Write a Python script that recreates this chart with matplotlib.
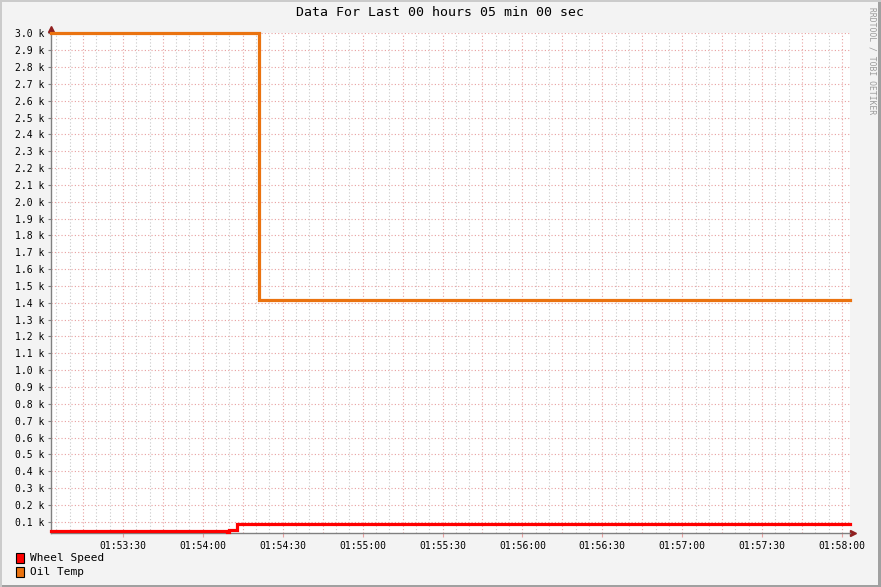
import datetime as dt
import matplotlib
matplotlib.use("Agg")
import matplotlib.pyplot as plt
import matplotlib.dates as mdates
from matplotlib.patches import Rectangle
from matplotlib.ticker import FixedLocator, FuncFormatter, MultipleLocator

title = "Data For Last 00 hours 05 min 00 sec"
x_start = "01:53:03"
x_end = "01:58:03"

# series (times as hh:mm:ss, values drawn as steps)
wheel_times = ["01:53:03", "01:54:09", "01:54:10", "01:54:13", "01:58:03"]
wheel_values = [42, 36, 52, 85, 85]
oil_times = ["01:53:03", "01:54:21", "01:58:03"]
oil_values = [3000, 1415, 1415]

series_names = ["Wheel Speed", "Oil Temp"]
series_colors = ["#FF0000", "#EA7310"]

y_min, y_max = 33, 3000


def t(s):
    return dt.datetime.strptime("2024-01-01 " + s, "%Y-%m-%d %H:%M:%S")


plt.rcParams["font.family"] = ["DejaVu Sans Mono"]

W, H = 881, 587
fig = plt.figure(figsize=(W / 100, H / 100), dpi=100)
fig.patch.set_facecolor("#F3F3F3")

# 3d-ish frame round the image
fig.add_artist(Rectangle((0, 0), 1, 2 / H, transform=fig.transFigure, color="#A0A0A0", lw=0))
fig.add_artist(Rectangle((1 - 3 / W, 0), 3 / W, 1, transform=fig.transFigure, color="#A0A0A0", lw=0))
fig.add_artist(Rectangle((0, 1 - 2 / H), 1, 2 / H, transform=fig.transFigure, color="#CBCBCB", lw=0))
fig.add_artist(Rectangle((0, 0), 2 / W, 1, transform=fig.transFigure, color="#CBCBCB", lw=0))

left, right, top, bottom = 51, 850, 33.3, 533
ax = fig.add_axes([left / W, (H - bottom) / H, (right - left) / W, (bottom - top) / H])
ax.set_facecolor("white")

x0, x1 = t(x_start), t(x_end)
ax.set_xlim(x0, x1)
ax.set_ylim(y_min, y_max)

# grid: minor every 5 s (grey), major every 15 s (pink), horizontal every 100
dot = (0, (1, 2))
sec5 = [x0 + dt.timedelta(seconds=s) for s in range(0, 301) if (x0.second + s) % 5 == 0]
for d in sec5:
    sec = (d - d.replace(second=0)).seconds
    if sec % 15 == 0:
        ax.axvline(d, color="#E8A0A0", lw=0.8, ls=dot, zorder=1)
    else:
        ax.axvline(d, color="#C8C8C8", lw=0.8, ls=dot, zorder=1)
for v in range(100, 3001, 100):
    ax.axhline(v, color="#E8A0A0", lw=0.8, ls=dot, zorder=1)

for name, times, vals, col in [
    (series_names[0], wheel_times, wheel_values, series_colors[0]),
    (series_names[1], oil_times, oil_values, series_colors[1]),
]:
    ax.step([t(s) for s in times], vals, where="post", color=col, lw=2.3,
            zorder=3, solid_joinstyle="miter", clip_on=False)

for s in ["top", "right"]:
    ax.spines[s].set_visible(False)
for s in ["left", "bottom"]:
    ax.spines[s].set_color("#808080")
    ax.spines[s].set_linewidth(1)

label_ticks = [t(s) for s in ["01:53:30", "01:54:00", "01:54:30", "01:55:00", "01:55:30",
                              "01:56:00", "01:56:30", "01:57:00", "01:57:30", "01:58:00"]]
ax.xaxis.set_major_locator(FixedLocator(mdates.date2num(label_ticks)))
ax.xaxis.set_major_formatter(mdates.DateFormatter("%H:%M:%S"))
ax.yaxis.set_major_locator(MultipleLocator(100))
ax.yaxis.set_major_formatter(FuncFormatter(lambda v, p: "%.1f k" % (v / 1000)))
ax.tick_params(axis="both", labelsize=7, colors="#000000", length=2, width=0.8, pad=3)
ax.tick_params(axis="x", color="#E8A0A0", length=3)
ax.tick_params(axis="y", color="#808080")

# axis arrows
ax.plot(1.004, 0, marker=">", color="#902020", ms=4, transform=ax.transAxes, clip_on=False)
ax.plot(0, 1.008, marker="^", color="#902020", ms=4, transform=ax.transAxes, clip_on=False)

fig.text(440 / W, 1 - 13 / H, title, ha="center", va="center", fontsize=9.5)
fig.text(872 / W, 1 - 61 / H, "RRDTOOL / TOBI OETIKER", rotation=270, ha="center",
         va="center", fontsize=5.8, color="#9A9A9A")

# legend
for i, (name, col) in enumerate(zip(series_names, series_colors)):
    yc = 558 + i * 14
    fig.add_artist(Rectangle((16 / W, 1 - (yc + 5) / H), 8 / W, 10 / H,
                             transform=fig.transFigure, facecolor=col,
                             edgecolor="black", lw=0.8))
    fig.text(30 / W, 1 - yc / H, name, ha="left", va="center", fontsize=8)

fig.savefig("out.png", dpi=100, facecolor=fig.get_facecolor())
